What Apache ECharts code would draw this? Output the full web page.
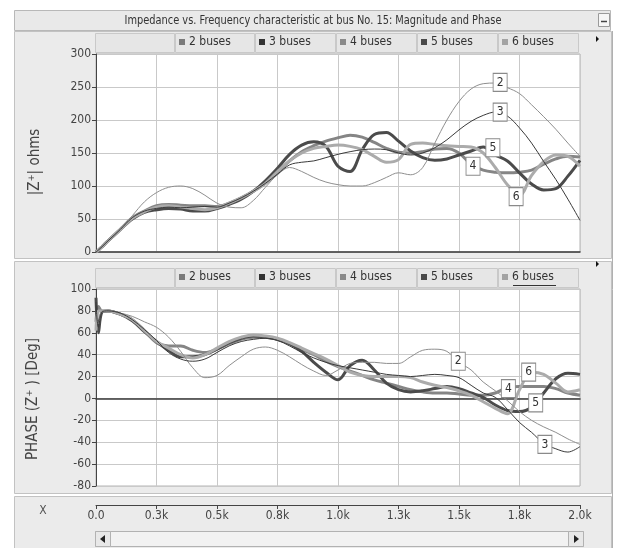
<!DOCTYPE html>
<html><head><meta charset="utf-8">
<script src="https://cdn.jsdelivr.net/npm/echarts@6/dist/echarts.min.js"></script>
<style>html,body{margin:0;padding:0;background:#fff}#c{width:618px;height:548px}</style>
</head><body><div id="c"></div>
<script>
// ---------- data ----------
const freq = [0,10,25,50,100,150,200,250,300,350,400,450,500,550,600,650,700,750,800,850,900,950,1000,1050,1100,1150,1200,1250,1300,1350,1400,1450,1500,1550,1600,1650,1700,1750,1800,1850,1900,1950,2000];
const seriesNames = ['2 buses','3 buses','4 buses','5 buses','6 buses'];
const curveLabels = ['2','3','4','5','6'];

const mag2 = [0,3,8,17,34,55,76,90,98,100,96,86,74,68,67,78,98,117,128,122,113,106,102,100,100,105,113,120,117,128,165,200,228,247,255,256,249,240,223,205,186,165,145];
const mag3 = [0,3,8,17,34,52,62,66,68,67,68,69,68,74,82,92,104,118,132,136,138,143,148,152,155,156,155,150,147,150,158,170,185,198,207,212,206,188,165,137,110,80,48];
const mag4 = [0,3,8,17,34,52,62,70,72,71,70,70,69,74,82,92,104,120,138,152,161,168,173,177,174,166,157,151,150,152,156,157,150,133,124,121,120,121,124,133,141,145,144];
const mag5 = [0,3,8,17,34,50,60,64,66,65,62,62,66,72,80,92,108,127,148,162,167,160,130,122,155,178,181,168,153,143,139,141,147,153,159,147,138,120,103,94,96,115,139];
const mag6 = [0,3,8,17,34,51,61,68,70,68,66,64,67,74,82,92,104,122,138,150,157,160,162,160,155,145,136,140,163,165,163,161,160,159,150,128,102,86,116,137,147,145,130];

const ph2 = [75,68,80,80,78,75,70,65,56,43,28,19,21,30,38,45,47,44,38,31,25,21,26,32,33,33,32,32,38,44,45,43,33,26,15,7,-2,-12,-20,-26,-31,-37,-42];
const ph3 = [88,65,79,80,78,72,63,53,42,36,34,36,42,48,52,54,55,53,48,42,37,33,30,28,26,24,22,21,20,21,22,21,19,12,5,1,-10,-22,-31,-41,-46,-49,-44];
const ph4 = [70,84,80,80,77,72,62,51,48,48,44,42,45,50,54,56,56,54,50,45,40,34,29,25,21,17,14,11,8,6,5,5,4,3,3,5,10,11,11,11,9,5,3];
const ph5 = [92,60,79,80,77,71,61,52,44,38,38,40,45,51,55,57,56,54,50,43,33,24,17,30,35,26,14,8,6,7,9,11,9,5,1,-6,-11,-12,-8,5,18,23,22];
const ph6 = [62,80,80,80,77,72,62,52,46,40,37,40,46,52,56,58,57,55,51,46,41,36,30,24,21,20,20,20,19,15,12,10,7,3,-3,-9,-14,8,24,22,14,6,8];

const magLabelX = [1670,1670,1558,1640,1736];
const magLabelY = [257,212,130,158,84];
const phaseLabelX = [1497,1855,1704,1817,1788];
const phaseLabelY = [34,-42,9,-4,24];

const xTickLabels = ['0.0','0.3k','0.5k','0.8k','1.0k','1.3k','1.5k','1.8k','2.0k'];
const xMin = 0, xMax = 2000, xStep = 250;
const magMin = 0, magMax = 300, magStep = 50;
const phMin = -80, phMax = 100, phStep = 20;

const titleText = 'Impedance vs. Frequency characteristic at bus No. 15: Magnitude and Phase';
const magAxisTitle = '|Z\u207A| ohms';
const phAxisTitle = 'PHASE (Z\u207A ) [Deg]';
const xAxisTitle = 'X';

// ---------- styles ----------
const FONT = "'Liberation Sans Narrow','DejaVu Sans Condensed','Liberation Sans',sans-serif";
const lineColors = ['#8e8e8e','#3a3a3a','#858585','#4b4b4b','#ababab'];
const lineWidths = [1, 1, 3, 3, 3];
const legendColors = ['#7a7a7a','#333333','#8a8a8a','#4a4a4a','#a3a3a3'];
const cellX = [95,175,255,336,417,498,579];
const legendRowTop = [33, 268];
const gridBox = [
  {left:96, top:54, width:484, height:198},
  {left:96, top:289, width:484, height:197},
  {left:96, top:504, width:484, height:1}
];

const magData = [mag2, mag3, mag4, mag5, mag6];
const phData = [ph2, ph3, ph4, ph5, ph6];

function mkSeries(vals, g, i, lx, ly) {
  return {
    type: 'line', name: seriesNames[i], xAxisIndex: g, yAxisIndex: g,
    data: freq.map((f, k) => [f, vals[k]]),
    smooth: 0.35, symbol: 'none', animation: false,
    lineStyle: {color: lineColors[i], width: lineWidths[i]},
    itemStyle: {color: legendColors[i]},
    z: lineWidths[i] === 1 ? 3 : 2,
    markPoint: {
      silent: true, symbol: 'rect', symbolSize: [14, 18], animation: false,
      itemStyle: {color: '#ffffff', borderColor: '#8a8a8a', borderWidth: 1},
      label: {show: true, formatter: curveLabels[i], color: '#333', fontSize: 12, fontFamily: FONT},
      data: [{coord: [lx, ly]}]
    }
  };
}

const series = [];
for (let i = 0; i < 5; i++) series.push(mkSeries(magData[i], 0, i, magLabelX[i], magLabelY[i]));
for (let i = 0; i < 5; i++) series.push(mkSeries(phData[i], 1, i, phaseLabelX[i], phaseLabelY[i]));

const legends = [];
for (let r = 0; r < 2; r++) {
  for (let i = 0; i < 5; i++) {
    legends.push({
      data: [seriesNames[i]], left: cellX[i + 1] + 4, top: legendRowTop[r] + 3,
      icon: 'rect', itemWidth: 6, itemHeight: 6, itemGap: 0, padding: 0, selectedMode: false,
      textStyle: {fontSize: 12, color: '#333', fontFamily: FONT, padding: [0,0,0,-1]}
    });
  }
}

const graphics = [];
function rect(x, y, w, h, fill, stroke, z) {
  graphics.push({type: 'rect', silent: true, z: z === undefined ? -10 : z, shape: {x, y, width: w, height: h},
    style: {fill, stroke, lineWidth: 1}});
}
// panels
rect(14.5, 10.5, 596, 20, '#e9e9e9', '#b8b8b8');
rect(14.5, 31.5, 597, 227, '#ebebeb', '#c2c2c2');
rect(14.5, 261.5, 597, 232, '#ebebeb', '#c2c2c2');
rect(14.5, 496.5, 597, 52, '#ebebeb', '#c2c2c2');
// minimize button
rect(598.5, 13.5, 11, 13, '#f6f6f6', '#9a9a9a', -5);
graphics.push({type:'line', silent:true, z:-4, shape:{x1:601, y1:21.5, x2:607, y2:21.5}, style:{stroke:'#444', lineWidth:1.5}});
// legend cells
for (let r = 0; r < 2; r++) {
  for (let c = 0; c < 6; c++) {
    rect(cellX[c] + 0.5, legendRowTop[r] + 0.5, cellX[c + 1] - cellX[c] - 1, 19, '#e6e6e6', '#c9c9c9', -5);
  }
}
// underline under "6 buses" in lower legend
graphics.push({type:'line', silent:true, z:5, shape:{x1:cellX[5]+15, y1:legendRowTop[1]+17.5, x2:cellX[5]+58, y2:legendRowTop[1]+17.5}, style:{stroke:'#333', lineWidth:1}});
// small black arrows at right of legend rows
[36, 261].forEach(y => graphics.push({type:'polygon', silent:true, z:5, shape:{points:[[596,y],[599,y+3],[596,y+6]]}, style:{fill:'#111'}}));
// title text
graphics.push({type:'text', silent:true, z:5, x:313, y:20.5, scaleX:0.84, style:{text:titleText, font:'13px ' + FONT, fill:'#333', align:'center', verticalAlign:'middle'}});
// axis titles
graphics.push({type:'text', silent:true, z:5, x:35, y:162, rotation:Math.PI/2, style:{text:magAxisTitle, font:'15px ' + FONT, fill:'#444', align:'center', verticalAlign:'middle'}});
graphics.push({type:'text', silent:true, z:5, x:33, y:399, rotation:Math.PI/2, style:{text:phAxisTitle, font:'15px ' + FONT, fill:'#444', align:'center', verticalAlign:'middle'}});
graphics.push({type:'text', silent:true, z:5, x:43, y:511, style:{text:xAxisTitle, font:'12px ' + FONT, fill:'#555', align:'center', verticalAlign:'middle'}});
// scrollbar
rect(95.5, 531.5, 488, 15, '#f2f2f2', '#b2b2b2', -5);
rect(95.5, 531.5, 15, 15, '#e8e8e8', '#b2b2b2', -4);
rect(568.5, 531.5, 15, 15, '#e8e8e8', '#b2b2b2', -4);
graphics.push({type:'polygon', silent:true, z:5, shape:{points:[[105,535],[100,539],[105,543]]}, style:{fill:'#222'}});
graphics.push({type:'polygon', silent:true, z:5, shape:{points:[[574,535],[579,539],[574,543]]}, style:{fill:'#222'}});
// right strip
graphics.push({type:'line', silent:true, z:-4, shape:{x1:612.5, y1:31, x2:612.5, y2:548}, style:{stroke:'#b0b0b0', lineWidth:1}});

const splitLine = {show: true, lineStyle: {color: '#c9c9c9', width: 1}};
const axisLabelStyle = {color: '#444', fontSize: 12, fontFamily: FONT};

const option = {
  animation: false,
  backgroundColor: '#ffffff',
  graphic: {elements: graphics},
  legend: legends,
  grid: [
    Object.assign({show: true, backgroundColor: '#ffffff', borderColor: '#b5b5b5', borderWidth: 1}, gridBox[0]),
    Object.assign({show: true, backgroundColor: '#ffffff', borderColor: '#b5b5b5', borderWidth: 1}, gridBox[1]),
    Object.assign({show: false}, gridBox[2])
  ],
  xAxis: [
    {type: 'value', gridIndex: 0, min: xMin, max: xMax, interval: xStep,
     axisLine: {show: true, lineStyle: {color: '#3a3a3a', width: 1.5}}, axisTick: {show: false}, axisLabel: {show: false}, splitLine},
    {type: 'value', gridIndex: 1, min: xMin, max: xMax, interval: xStep,
     axisLine: {show: true, onZero: true, lineStyle: {color: '#3a3a3a', width: 1.5}}, axisTick: {show: false}, axisLabel: {show: false}, splitLine},
    {type: 'value', gridIndex: 2, min: xMin, max: xMax, interval: xStep, position: 'bottom',
     axisLine: {show: true, onZero: false, lineStyle: {color: '#444', width: 1}},
     axisTick: {show: true, length: 4, lineStyle: {color: '#444'}},
     axisLabel: Object.assign({margin: 5, formatter: v => xTickLabels[Math.round((v - xMin) / xStep)]}, axisLabelStyle),
     splitLine: {show: false}}
  ],
  yAxis: [
    {type: 'value', gridIndex: 0, min: magMin, max: magMax, interval: magStep,
     axisLine: {show: true, lineStyle: {color: '#444'}}, axisTick: {show: true, length: 4, lineStyle: {color: '#444'}},
     axisLabel: Object.assign({margin: 5}, axisLabelStyle), splitLine},
    {type: 'value', gridIndex: 1, min: phMin, max: phMax, interval: phStep,
     axisLine: {show: true, onZero: false, lineStyle: {color: '#444'}}, axisTick: {show: true, length: 4, lineStyle: {color: '#444'}},
     axisLabel: Object.assign({margin: 5}, axisLabelStyle), splitLine},
    {type: 'value', gridIndex: 2, show: false, min: 0, max: 1}
  ],
  series
};

const chart = echarts.init(document.getElementById('c'), null, {renderer: 'canvas'});
chart.setOption(option);
</script>
</body></html>
